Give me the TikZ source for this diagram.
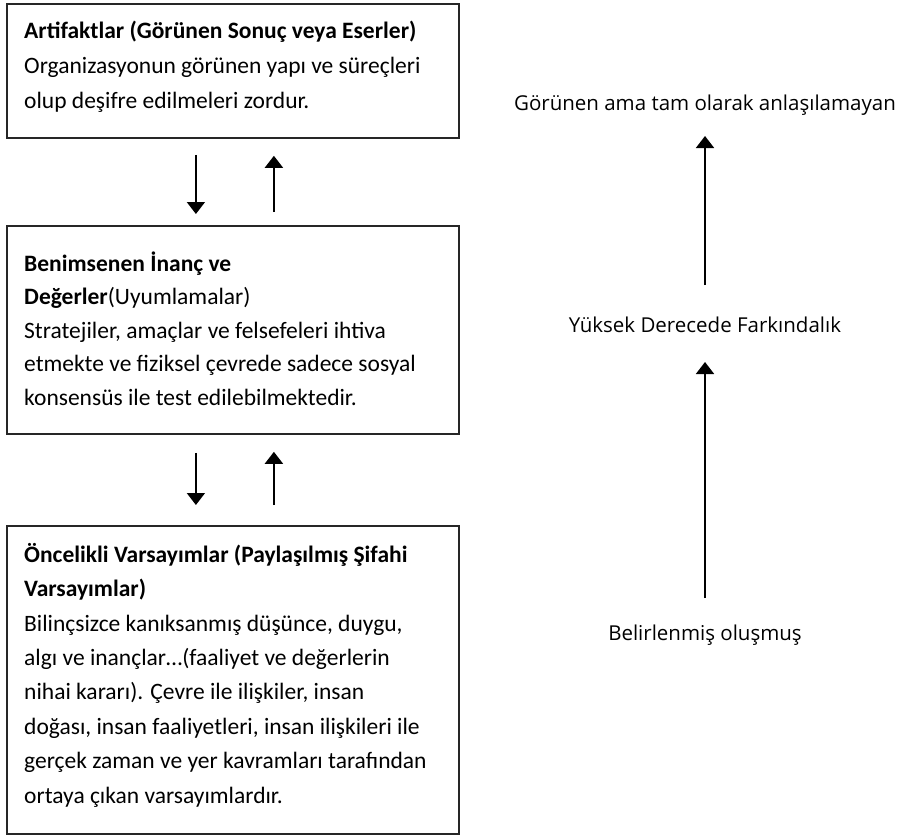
\documentclass[tikz,border=0pt]{standalone}
\usepackage{fontspec}
\setmainfont{Carlito}
\newfontfamily\rightfont{Open Sans}
\usetikzlibrary{arrows.meta}
\begin{document}
\begin{tikzpicture}[x=1pt,y=-1pt,
  box/.style={draw=black!85,line width=1.8pt,anchor=north west,inner sep=0pt},
  txt/.style={anchor=base west,inner sep=0pt,align=left},
  rtxt/.style={inner sep=0pt,font=\rightfont\fontsize{20.5}{24}\selectfont},
  arr/.style={line width=1.8pt,-{Triangle[width=18pt,length=12pt]}}]
\useasboundingbox (0,0) rectangle (905,835);
% boxes
\node[box,minimum width=452pt,minimum height=134pt] (b1) at (6,3) {};
\node[box,minimum width=452pt,minimum height=208pt] (b2) at (6,225) {};
\node[box,minimum width=452pt,minimum height=308pt] (b3) at (6,525) {};
% texts (anchored at the baseline of the last line)
\node[txt,font=\fontsize{23.5}{35}\selectfont] (t1) at (24,108) {\textbf{Artifaktlar (Görünen Sonuç veya Eserler)}\\Organizasyonun görünen yapı ve süreçleri\\olup deşifre edilmeleri zordur.};
\node[txt,font=\fontsize{23.5}{33.5}\selectfont] (t2) at (24,405) {\textbf{Benimsenen İnanç ve}\\\textbf{Değerler}(Uyumlamalar)\\Stratejiler, amaçlar ve felsefeleri ihtiva\\etmekte ve fiziksel çevrede sadece sosyal\\konsensüs ile test edilebilmektedir.};
\node[txt,font=\fontsize{23.5}{34.4}\selectfont] (t3) at (24,803) {\textbf{Öncelikli Varsayımlar (Paylaşılmış Şifahi}\\\textbf{Varsayımlar)}\\Bilinçsizce kanıksanmış düşünce, duygu,\\algı ve inançlar…(faaliyet ve değerlerin\\nihai kararı). Çevre ile ilişkiler, insan\\doğası, insan faaliyetleri, insan ilişkileri ile\\gerçek zaman ve yer kavramları tarafından\\ortaya çıkan varsayımlardır.};
% arrows between boxes
\draw[arr] ([xshift=-37pt,yshift=-16pt]b1.south) -- ([xshift=-37pt,yshift=11pt]b2.north);
\draw[arr] ([xshift=41pt,yshift=13pt]b2.north) -- ([xshift=41pt,yshift=-17pt]b1.south);
\draw[arr] ([xshift=-37pt,yshift=-18pt]b2.south) -- ([xshift=-37pt,yshift=20pt]b3.north);
\draw[arr] ([xshift=41pt,yshift=20pt]b3.north) -- ([xshift=41pt,yshift=-17pt]b2.south);
% right side
\node[rtxt] (r1) at (705,105) {Görünen ama tam olarak anlaşılamayan};
\node[rtxt] (r2) at (705,325) {Yüksek Derecede Farkındalık};
\node[rtxt] (r3) at (705,635) {Belirlenmiş oluşmuş};
\draw[arr] ([yshift=40pt]r2.center) -- ([yshift=-31pt]r1.center);
\draw[arr] ([yshift=37pt]r3.center) -- ([yshift=-37pt]r2.center);
\end{tikzpicture}
\end{document}
